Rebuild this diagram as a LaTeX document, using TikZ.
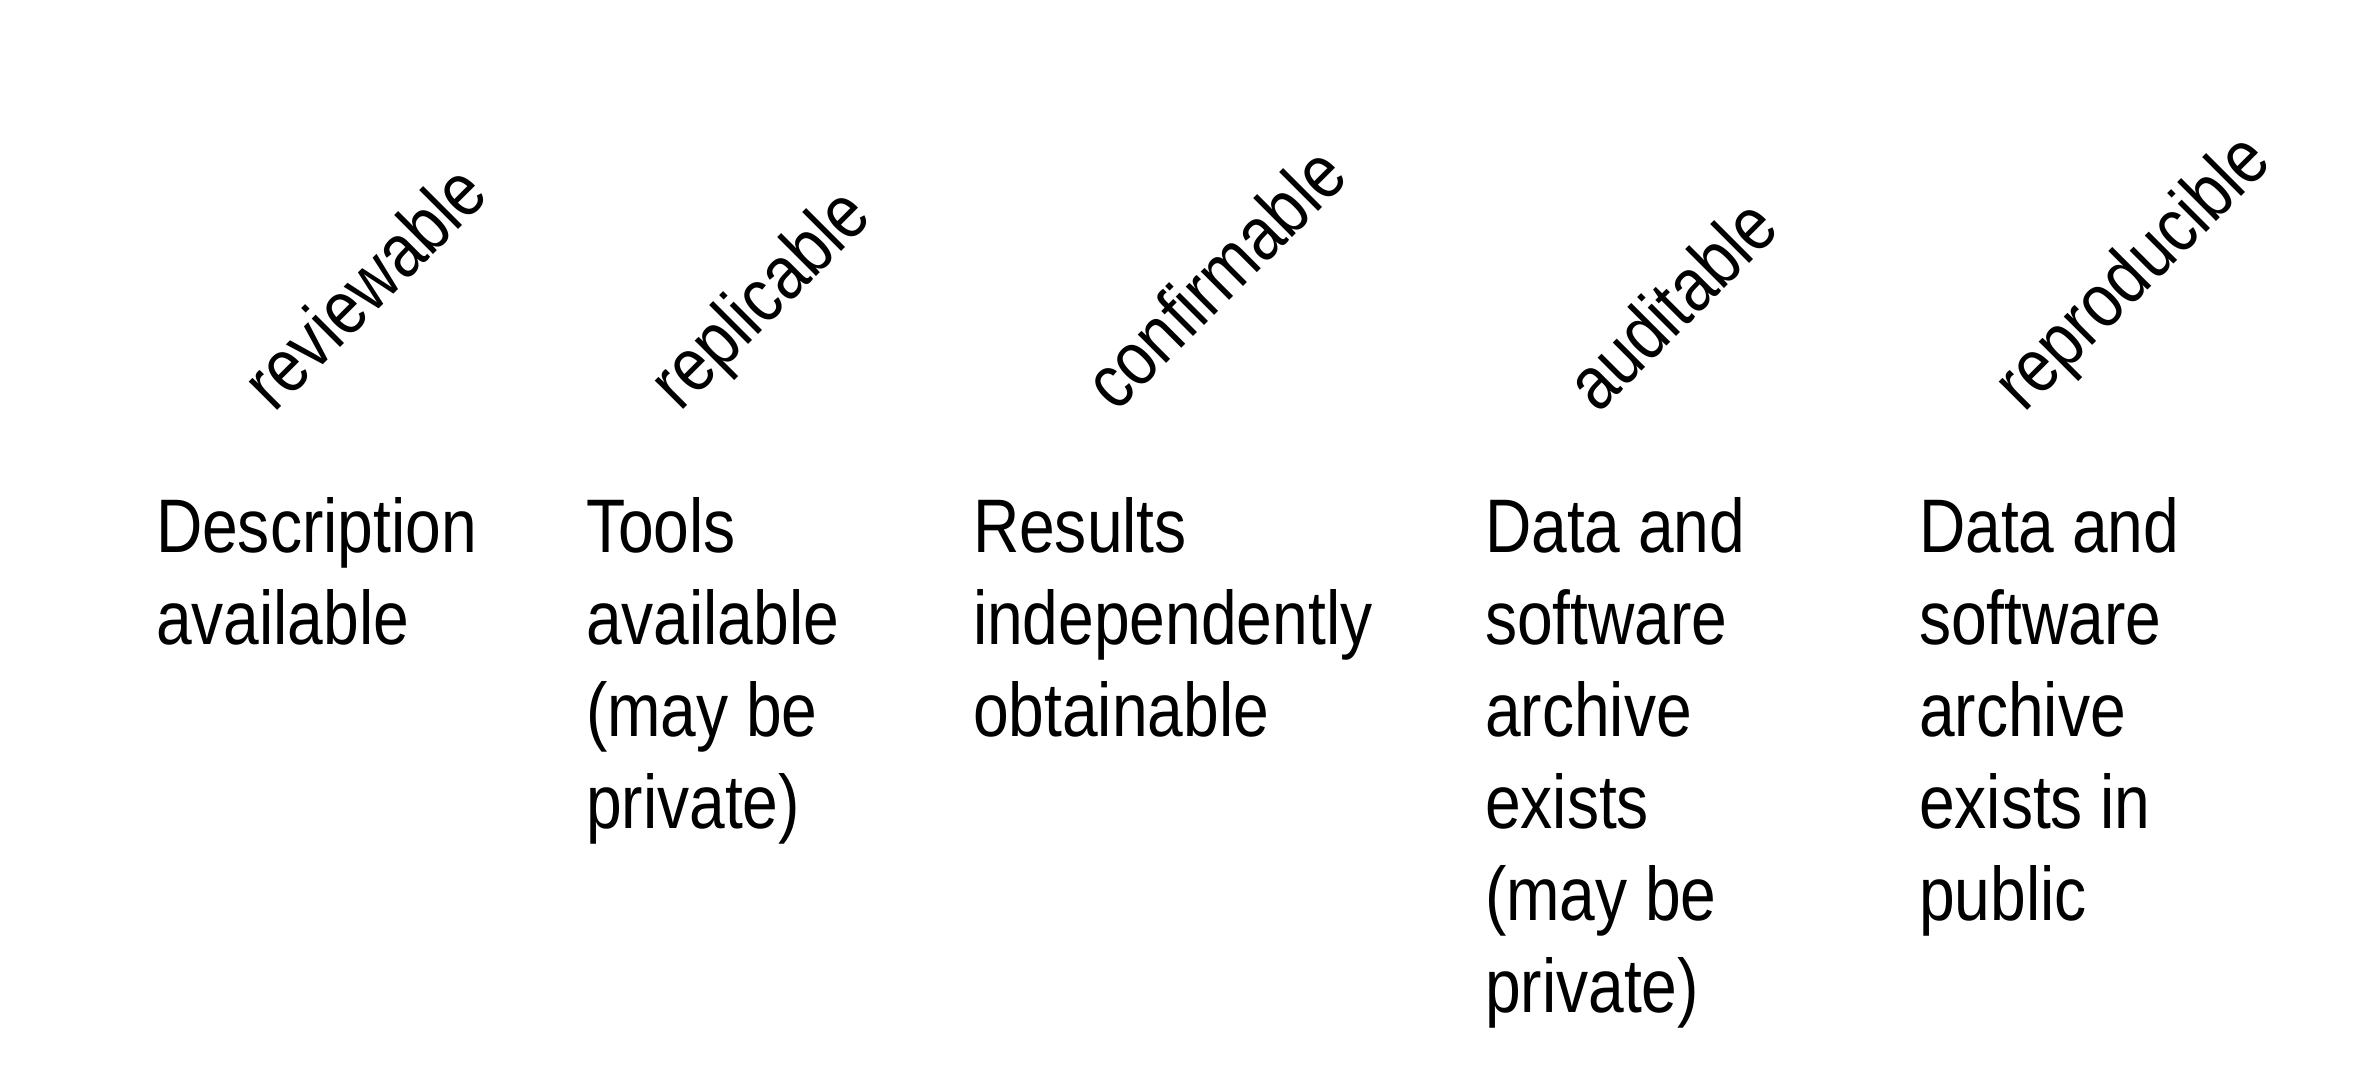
\documentclass[tikz,border=0pt]{standalone}
\usepackage{fontspec}
\setmainfont{Liberation Sans}[FakeStretch=0.845]
\begin{document}
\begin{tikzpicture}[x=0.1mm,y=-0.1mm,
  lbl/.style={font=\fontsize{21.6pt}{26.2pt}\selectfont, inner sep=0pt, outer sep=0pt},
  quality/.style={lbl, anchor=base west, rotate=45},
  desc/.style={lbl, anchor=north west, align=left}]
\useasboundingbox (0,0) rectangle (2359,1088);

% slanted headings
\node[quality] (q1) at (274,414) {reviewable};
\node[quality] (q2) at (680,413) {replicable};
\node[quality] (q3) at (1116,414) {confirmable};
\node[quality] (q4) at (1598,415) {auditable};
\node[quality] (q5) at (2024,414) {reproducible};

% descriptions below each heading
\node[desc] (d1) at (156,497) {Description\\available};
\node[desc] (d2) at (586,497) {Tools\\available\\(may be\\private)};
\node[desc] (d3) at (973,497) {Results\\independently\\obtainable};
\node[desc] (d4) at (1485,497) {Data and\\software\\archive\\exists\\(may be\\private)};
\node[desc] (d5) at (1919,497) {Data and\\software\\archive\\exists in\\public};
\end{tikzpicture}
\end{document}
